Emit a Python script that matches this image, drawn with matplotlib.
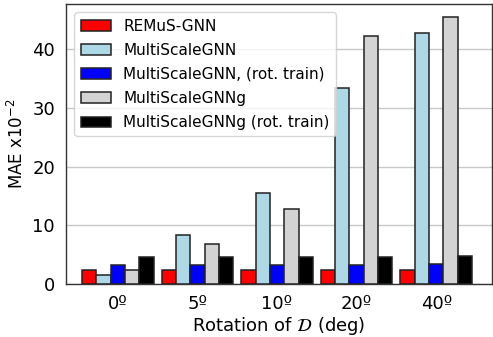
import numpy as np
import matplotlib.pyplot as plt

angles = ['0º', '5º', '10º', '20º', '40º']
remus = [2.4, 2.4, 2.4, 2.4, 2.4]
msgnn = [1.5, 8.3, 15.5, 33.3, 42.7]
msgnn_rot = [3.3, 3.2, 3.2, 3.2, 3.5]
msgnng = [2.4, 6.8, 12.7, 42.3, 45.4]
msgnng_rot = [4.6, 4.6, 4.6, 4.6, 4.8]

series = [
    ('REMuS-GNN', remus, 'red'),
    ('MultiScaleGNN', msgnn, 'lightblue'),
    ('MultiScaleGNN, (rot. train)', msgnn_rot, 'blue'),
    ('MultiScaleGNNg', msgnng, 'lightgray'),
    ('MultiScaleGNNg (rot. train)', msgnng_rot, 'black'),
]

fig = plt.figure(figsize=(4.93, 3.37), dpi=100)
ax = fig.add_axes([0.134, 0.157, 0.864, 0.831])

x = np.arange(len(angles))
w = 0.18
for i, (name, vals, col) in enumerate(series):
    ax.bar(x + (i - 2) * w, vals, w, color=col, edgecolor='#222222',
           linewidth=1.1, label=name, zorder=3)

ax.set_xlim(-0.65, 4.7)
ax.set_xticks(x)
ax.set_xticklabels(angles)
ax.set_yticks([0, 10, 20, 30, 40])
ax.tick_params(axis='both', length=0, labelsize=13, pad=8)
ax.yaxis.grid(True, color='#c8c8c8', linewidth=1, zorder=0)
ax.set_axisbelow(True)
for s in ax.spines.values():
    s.set_color('#333333')
    s.set_linewidth(1)

ax.set_ylabel(r'MAE x$10^{-2}$', fontsize=12)
ax.set_xlabel(r'Rotation of $\mathcal{D}$ (deg)', fontsize=13, labelpad=1)
ax.legend(loc='upper left', fontsize=11, handlelength=2.0,
          labelspacing=0.6, borderaxespad=0.55)

fig.savefig('out.png', dpi=100)
